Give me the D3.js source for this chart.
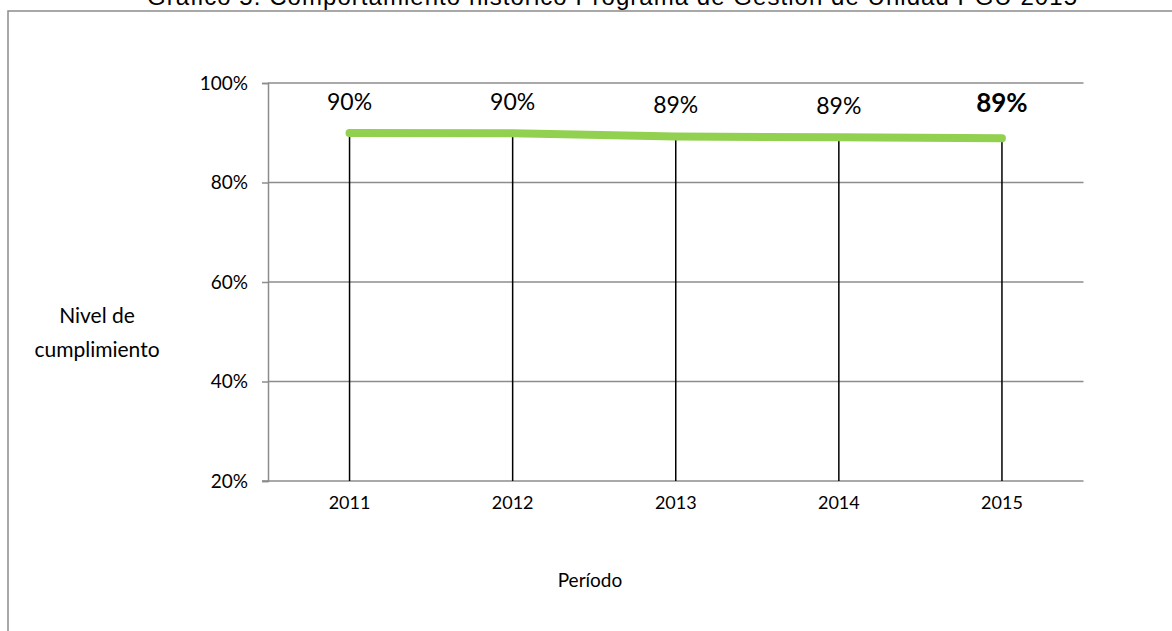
<!DOCTYPE html>
<html>
<head>
<meta charset="utf-8">
<script src="https://cdn.jsdelivr.net/npm/d3@7"></script>
<style>
  html, body { margin: 0; padding: 0; background: #fff; }
  svg { display: block; }
  .lbl { font-family: Lato, "Open Sans", sans-serif; fill: #000; }
</style>
</head>
<body>
<svg id="chart" width="1172" height="631"></svg>
<script>
// chart data
const years = ['2011', '2012', '2013', '2014', '2015'];
const values = [0.8995, 0.899, 0.8925, 0.891, 0.889];
const valueLabels = ['90%', '90%', '89%', '89%', '89%'];
const yTicks = [0.2, 0.4, 0.6, 0.8, 1.0];

const svg = d3.select('#chart');
const plot = { left: 268, right: 1083.5, top: 83, bottom: 481 };

// outer frame (runs off the right and bottom edges)
svg.append('rect')
  .attr('x', 8).attr('y', 11).attr('width', 1200).attr('height', 700)
  .attr('fill', 'none').attr('stroke', '#8c8c8c').attr('stroke-width', 1.5);

// title, cut off at the top like the source
svg.append('text')
  .attr('x', 612).attr('y', 5)
  .attr('text-anchor', 'middle')
  .style('font-family', '"Liberation Sans", Arial, sans-serif')
  .style('font-size', '24px')
  .attr('textLength', 930)
  .text('Gráfico 5. Comportamiento histórico Programa de Gestión de Unidad PGU 2015');

const x = d3.scaleBand().domain(years).range([plot.left, plot.right]);
const y = d3.scaleLinear().domain([0.2, 1.0]).range([plot.bottom, plot.top]);

// gridlines
svg.append('g').selectAll('line').data(yTicks.slice(1)).join('line')
  .attr('x1', plot.left).attr('x2', plot.right)
  .attr('y1', d => y(d)).attr('y2', d => y(d))
  .attr('stroke', '#8c8c8c').attr('stroke-width', 1.5);

// y axis
const yAxis = svg.append('g').attr('transform', `translate(${plot.left},0)`)
  .call(d3.axisLeft(y).tickValues(yTicks).tickFormat(d3.format('.0%')).tickSize(6).tickPadding(14));
yAxis.select('.domain').attr('stroke', '#8c8c8c').attr('stroke-width', 1.5);
yAxis.selectAll('.tick line').attr('stroke', '#8c8c8c').attr('stroke-width', 1.5);
yAxis.selectAll('.tick text').attr('class', 'lbl').style('font-size', '19px').attr('fill', '#000');

// x axis
const xAxis = svg.append('g').attr('transform', `translate(0,${plot.bottom})`)
  .call(d3.axisBottom(x).tickSize(0).tickPadding(15));
xAxis.select('.domain').attr('stroke', '#8c8c8c').attr('stroke-width', 1.5).attr('d', `M${plot.left - 6},0H${plot.right}`);
xAxis.selectAll('.tick text').attr('class', 'lbl').style('font-size', '18px').attr('fill', '#000');

const cx = d => x(d) + x.bandwidth() / 2;

// drop lines
svg.append('g').selectAll('line').data(years).join('line')
  .attr('x1', d => cx(d)).attr('x2', d => cx(d))
  .attr('y1', (d, i) => y(values[i])).attr('y2', plot.bottom)
  .attr('stroke', '#000').attr('stroke-width', 1.5);

// series line
const line = d3.line().x((d, i) => cx(years[i])).y(d => y(d));
svg.append('path').datum(values)
  .attr('d', line)
  .attr('fill', 'none').attr('stroke', '#92d050')
  .attr('stroke-width', 8).attr('stroke-linecap', 'round').attr('stroke-linejoin', 'round');

// data labels (last one bold)
svg.append('g').selectAll('text').data(valueLabels).join('text')
  .attr('class', 'lbl')
  .attr('x', (d, i) => cx(years[i]))
  .attr('y', (d, i) => y(values[i]) - (i === 4 ? 26 : 23))
  .attr('text-anchor', 'middle')
  .style('font-size', (d, i) => i === 4 ? '26px' : '23px')
  .style('font-weight', (d, i) => i === 4 ? 'bold' : 'normal')
  .text(d => d);

// axis titles
const yt = svg.append('text').attr('class', 'lbl').attr('text-anchor', 'middle').style('font-size', '21px');
yt.append('tspan').attr('x', 97).attr('y', 323).text('Nivel de');
yt.append('tspan').attr('x', 97).attr('y', 357).text('cumplimiento');

svg.append('text').attr('class', 'lbl')
  .attr('x', 590).attr('y', 587)
  .attr('text-anchor', 'middle').style('font-size', '19px')
  .text('Período');
</script>
</body>
</html>
